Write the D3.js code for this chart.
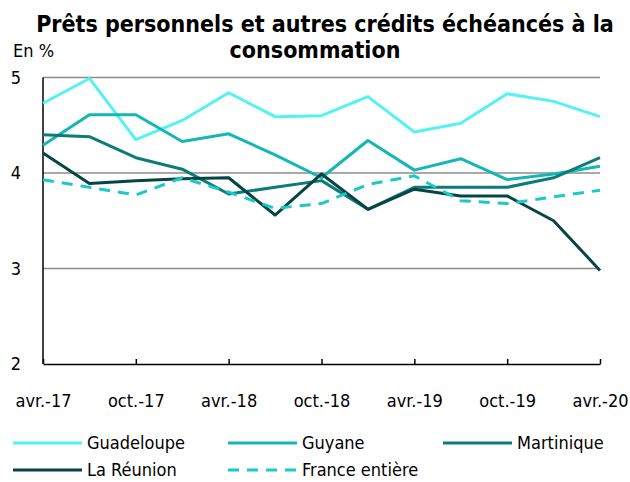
<!DOCTYPE html>
<html>
<head>
<meta charset="utf-8">
<script src="https://cdn.jsdelivr.net/npm/d3@7"></script>
<style>
  body { margin: 0; background: #fff; }
  svg text { font-family: "DejaVu Sans Condensed", "Liberation Sans Narrow", "DejaVu Sans", sans-serif; }
</style>
</head>
<body>
<div id="chart"></div>
<script>
// trimestres, avr.-17 -> avr.-20
const quarters = ["avr.-17", "juil.-17", "oct.-17", "janv.-18", "avr.-18", "juil.-18", "oct.-18",
                  "janv.-19", "avr.-19", "juil.-19", "oct.-19", "janv.-20", "avr.-20"];
const tickLabels = ["avr.-17", "oct.-17", "avr.-18", "oct.-18", "avr.-19", "oct.-19", "avr.-20"];
const yTicks = [2, 3, 4, 5];

const guadeloupe = [4.73, 4.99, 4.35, 4.55, 4.84, 4.59, 4.60, 4.80, 4.43, 4.52, 4.83, 4.75, 4.59];
const guyane     = [4.29, 4.61, 4.61, 4.33, 4.41, 4.19, 3.95, 4.34, 4.03, 4.15, 3.93, 3.99, 4.07];
const martinique = [4.40, 4.38, 4.16, 4.04, 3.78, 3.85, 3.92, 3.62, 3.85, 3.85, 3.85, 3.95, 4.16];
const reunion    = [4.21, 3.89, 3.92, 3.94, 3.95, 3.56, 3.99, 3.62, 3.83, 3.76, 3.76, 3.50, 2.98];
const france     = [3.93, 3.85, 3.77, 3.95, 3.80, 3.63, 3.68, 3.88, 3.97, 3.71, 3.68, 3.75, 3.82];

const series = [
  { name: "Guadeloupe", values: guadeloupe, color: "#55f2f2", dash: null },
  { name: "Guyane", values: guyane, color: "#14b6b6", dash: null },
  { name: "Martinique", values: martinique, color: "#0e7b7b", dash: null },
  { name: "La Réunion", values: reunion, color: "#074545", dash: null },
  { name: "France entière", values: france, color: "#1cc9c9", dash: "11,8" }
];

const W = 630, H = 482;
const svg = d3.select("#chart").append("svg")
    .attr("width", W)
    .attr("height", H);

// titre
const title = svg.append("text")
    .attr("text-anchor", "middle")
    .style("font-size", "23px")
    .style("font-weight", "bold")
    .style("fill", "#000");
title.append("tspan").attr("x", 325).attr("y", 32).text("Prêts personnels et autres crédits échéancés à la");
title.append("tspan").attr("x", 315).attr("y", 58).text("consommation");

svg.append("text")
    .attr("x", 13)
    .attr("y", 57)
    .style("font-size", "18px")
    .text("En %");

const x = d3.scalePoint()
    .domain(quarters)
    .range([43, 600]);

const y = d3.scaleLinear()
    .domain([2, 5])
    .range([364, 77.5]);

// grille
svg.append("g")
    .selectAll("line")
    .data(yTicks.filter(d => d > 2))
    .enter()
    .append("line")
    .attr("x1", 43)
    .attr("x2", 600)
    .attr("y1", d => y(d))
    .attr("y2", d => y(d))
    .attr("stroke", "#8c8c8c")
    .attr("stroke-width", 1.5);

// axe Y
svg.append("line")
    .attr("x1", 43).attr("x2", 43)
    .attr("y1", y(5)).attr("y2", y(2))
    .attr("stroke", "#000")
    .attr("stroke-width", 1.5);

svg.append("g")
    .selectAll("text")
    .data(yTicks)
    .enter()
    .append("text")
    .attr("x", 16)
    .attr("y", d => y(d))
    .attr("dy", "0.35em")
    .attr("text-anchor", "middle")
    .style("font-size", "18px")
    .text(d => d);

// axe X
const xAxis = svg.append("g")
    .attr("transform", `translate(0, ${y(2)})`)
    .call(d3.axisBottom(x).tickValues(tickLabels).tickSize(-5).tickPadding(0).tickSizeOuter(0));
xAxis.attr("font-family", null).attr("font-size", null);
xAxis.select(".domain").attr("stroke", "#000").attr("stroke-width", 1.5);
xAxis.selectAll(".tick line").attr("stroke", "#000").attr("stroke-width", 1.5);
xAxis.selectAll(".tick text")
    .attr("y", 37)
    .attr("dy", "0.35em")
    .style("font-size", "18px")
    .attr("fill", "#000");

// courbes
const line = d3.line()
    .x((d, i) => x(quarters[i]))
    .y(d => y(d));

svg.append("g")
    .selectAll("path")
    .data(series)
    .enter()
    .append("path")
    .attr("d", d => line(d.values))
    .attr("fill", "none")
    .attr("stroke", d => d.color)
    .attr("stroke-width", 3)
    .attr("stroke-linejoin", "round")
    .attr("stroke-dasharray", d => d.dash);

// légende
const legendPos = [
  { x: 13, y: 443 }, { x: 228, y: 443 }, { x: 443, y: 443 },
  { x: 13, y: 470 }, { x: 228, y: 470 }
];
const legend = svg.append("g")
    .selectAll("g")
    .data(series)
    .enter()
    .append("g")
    .attr("transform", (d, i) => `translate(${legendPos[i].x}, ${legendPos[i].y})`);

legend.append("line")
    .attr("x1", 0).attr("x2", 69)
    .attr("stroke", d => d.color)
    .attr("stroke-width", 3)
    .attr("stroke-dasharray", d => d.dash);

legend.append("text")
    .attr("x", 74)
    .attr("dy", "0.35em")
    .style("font-size", "18px")
    .text(d => d.name);
</script>
</body>
</html>
